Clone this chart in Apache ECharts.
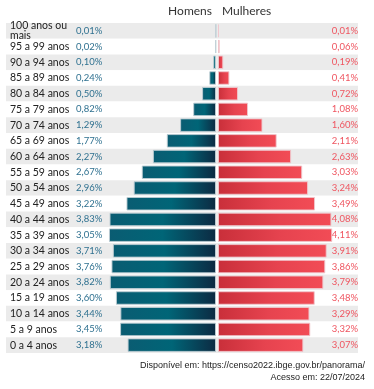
<!DOCTYPE html>
<html>
<head>
<meta charset="utf-8">
<script src="https://cdn.jsdelivr.net/npm/echarts@6/dist/echarts.min.js"></script>
<style>
html,body{margin:0;padding:0;background:#fff;}
#chart{width:374px;height:389px;}
</style>
</head>
<body>
<div id="chart"></div>
<script>
const categories = ['100 anos ou mais','95 a 99 anos','90 a 94 anos','85 a 89 anos','80 a 84 anos','75 a 79 anos','70 a 74 anos','65 a 69 anos','60 a 64 anos','55 a 59 anos','50 a 54 anos','45 a 49 anos','40 a 44 anos','35 a 39 anos','30 a 34 anos','25 a 29 anos','20 a 24 anos','15 a 19 anos','10 a 14 anos','5 a 9 anos','0 a 4 anos'];
const menValues = [0.01,0.02,0.10,0.24,0.50,0.82,1.29,1.77,2.27,2.67,2.96,3.22,3.83,3.85,3.71,3.76,3.82,3.60,3.44,3.45,3.18];
const womenValues = [0.01,0.06,0.19,0.41,0.72,1.08,1.60,2.11,2.63,3.03,3.24,3.49,4.08,4.11,3.91,3.86,3.79,3.48,3.29,3.32,3.07];
const menLabels = ['0,01%','0,02%','0,10%','0,24%','0,50%','0,82%','1,29%','1,77%','2,27%','2,67%','2,96%','3,22%','3,83%','3,05%','3,71%','3,76%','3,82%','3,60%','3,44%','3,45%','3,18%'];
const womenLabels = ['0,01%','0,06%','0,19%','0,41%','0,72%','1,08%','1,60%','2,11%','2,63%','3,03%','3,24%','3,49%','4,08%','4,11%','3,91%','3,86%','3,79%','3,48%','3,29%','3,32%','3,07%'];

const FONT = 'Lato';
const TOP = 23, BOTTOM = 36;
const chart = echarts.init(document.getElementById('chart'), null, {renderer:'canvas'});
const catBase = {type:'category', inverse:true, axisLine:{show:false,onZero:false}, axisTick:{show:false}, splitLine:{show:false}};

chart.setOption({
  animation:false,
  backgroundColor:'#fff',
  grid:[
    {left:90.9, width:125.1, top:TOP, bottom:BOTTOM},
    {left:218, width:125.1, top:TOP, bottom:BOTTOM},
    {left:6, right:16, top:TOP, bottom:BOTTOM, z:0}
  ],
  xAxis:[
    {type:'value', gridIndex:0, min:0, max:4.5, inverse:true, show:false},
    {type:'value', gridIndex:1, min:0, max:4.5, show:false},
    {type:'value', gridIndex:2, min:0, max:1, show:false}
  ],
  yAxis:[
    Object.assign({}, catBase, {gridIndex:0, position:'left', data:categories,
      axisLabel:{interval:0, align:'left', margin:80.9, color:'#222', fontFamily:FONT, fontSize:10.5, lineHeight:10,
        formatter:function(v){return v.replace(' ou mais',' ou\nmais');}}}),
    Object.assign({}, catBase, {gridIndex:0, position:'left', data:menLabels,
      axisLabel:{interval:0, align:'left', margin:14.9, color:'#2f7190', fontFamily:FONT, fontSize:9.5}}),
    Object.assign({}, catBase, {gridIndex:1, position:'right', data:womenLabels,
      axisLabel:{interval:0, align:'right', margin:15, color:'#ef5560', fontFamily:FONT, fontSize:9.5}}),
    Object.assign({}, catBase, {gridIndex:2, data:categories, axisLabel:{show:false},
      splitArea:{show:true, interval:0, areaStyle:{color:['#ebebeb','#ffffff']}}})
  ],
  graphic:[
    {type:'text', right:374-212, top:5, style:{text:'Homens', fill:'#333', font:'12px '+FONT, textAlign:'right'}},
    {type:'text', left:222, top:5, style:{text:'Mulheres', fill:'#333', font:'12px '+FONT}},
    {type:'text', right:9, top:361, style:{text:'Disponível em: https://censo2022.ibge.gov.br/panorama/', fill:'#222', font:'9px "Liberation Sans"', textAlign:'right'}},
    {type:'text', right:9, top:373, style:{text:'Acesso em: 22/07/2024', fill:'#222', font:'9px "Liberation Sans"', textAlign:'right'}}
  ],
  series:[
    {type:'bar', name:'Homens', xAxisIndex:0, yAxisIndex:0, data:menValues, barWidth:'86%',
      itemStyle:{borderColor:'rgba(190,205,212,0.9)', borderWidth:1,
        color:new echarts.graphic.LinearGradient(0,0,1,0,[
          {offset:0,color:'#0a5c72'},{offset:0.5,color:'#006577'},{offset:1,color:'#0c2a42'}])}},
    {type:'bar', name:'Mulheres', xAxisIndex:1, yAxisIndex:2, data:womenValues, barWidth:'86%', barMinHeight:1,
      itemStyle:{borderColor:'rgba(240,200,205,0.9)', borderWidth:1,
        color:new echarts.graphic.LinearGradient(0,0,1,0,[
          {offset:0,color:'#c92f3a'},{offset:0.55,color:'#e6434f'},{offset:1,color:'#f24c56'}])}}
  ]
});
</script>
</body>
</html>
